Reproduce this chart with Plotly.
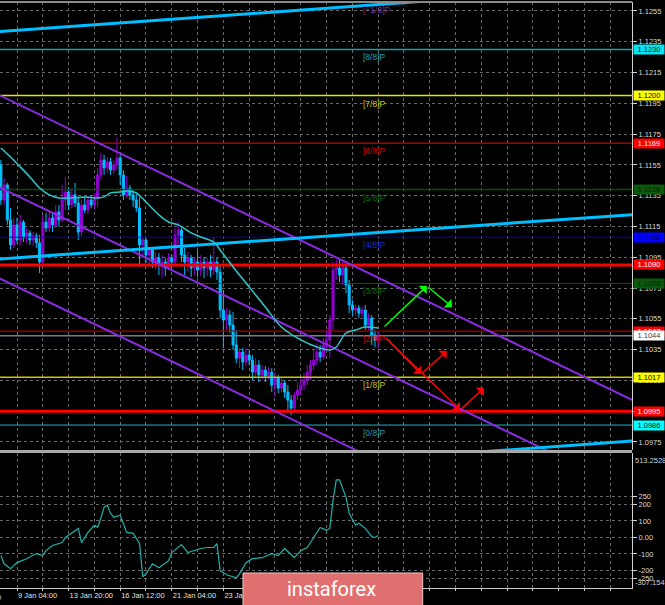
import plotly.graph_objects as go

# ---------------- data ----------------
bars = list(range(118))
open_ = [1.11550,1.11322,1.11420,1.11192,1.11030,1.11160,1.11062,1.11179,1.11075,1.11107,
         1.11062,1.11088,1.11043,1.10919,1.11179,1.11140,1.11205,1.11160,1.11244,1.11192,
         1.11322,1.11374,1.11290,1.11355,1.11303,1.11114,1.11290,1.11257,1.11322,1.11290,
         1.11335,1.11485,1.11582,1.11530,1.11569,1.11517,1.11550,1.11595,1.11485,1.11355,
         1.11400,1.11355,1.11322,1.11270,1.11030,1.11062,1.10965,1.10997,1.10919,1.10945,
         1.10900,1.10919,1.10880,1.10945,1.10919,1.11095,1.11127,1.10965,1.10919,1.10945,
         1.10880,1.10919,1.10867,1.10919,1.10880,1.10919,1.10867,1.10919,1.10854,1.10607,
         1.10542,1.10575,1.10510,1.10380,1.10295,1.10334,1.10269,1.10315,1.10282,1.10204,
         1.10250,1.10185,1.10217,1.10178,1.10204,1.10120,1.10165,1.10100,1.10133,1.10074,
         1.10022,1.09970,1.10055,1.10087,1.10120,1.10152,1.10204,1.10250,1.10282,1.10334,
         1.10302,1.10380,1.10412,1.10542,1.10867,1.10880,1.10835,1.10880,1.10770,1.10640,
         1.10607,1.10620,1.10587,1.10607,1.10510,1.10555,1.10445,1.10412]
high = [1.11582,1.11465,1.11433,1.11270,1.11205,1.11205,1.11225,1.11192,1.11140,1.11127,
        1.11114,1.11107,1.11095,1.11225,1.11237,1.11244,1.11237,1.11290,1.11290,1.11420,
        1.11472,1.11407,1.11400,1.11433,1.11342,1.11322,1.11342,1.11348,1.11355,1.11368,
        1.11530,1.11627,1.11615,1.11602,1.11595,1.11582,1.11732,1.11615,1.11517,1.11478,
        1.11420,1.11387,1.11368,1.11342,1.11082,1.11075,1.11017,1.11010,1.10984,1.10977,
        1.10965,1.10945,1.10977,1.10965,1.11140,1.11179,1.11140,1.11010,1.10984,1.10965,
        1.10952,1.10997,1.10965,1.10952,1.10945,1.10965,1.11082,1.10945,1.10900,1.10737,
        1.10620,1.10607,1.10594,1.10477,1.10360,1.10360,1.10360,1.10347,1.10315,1.10295,
        1.10282,1.10250,1.10243,1.10237,1.10230,1.10204,1.10185,1.10172,1.10152,1.10120,
        1.10055,1.10074,1.10139,1.10165,1.10197,1.10250,1.10282,1.10347,1.10393,1.10380,
        1.10425,1.10477,1.10575,1.10919,1.10932,1.10932,1.10919,1.10900,1.10802,1.10672,
        1.10640,1.10640,1.10632,1.10640,1.10587,1.10575,1.10477,1.10464]
low = [1.11290,1.11290,1.11160,1.10997,1.11010,1.11043,1.11030,1.11049,1.11043,1.11030,
       1.11023,1.11010,1.10847,1.10887,1.11114,1.11114,1.11114,1.11140,1.11147,1.11179,
       1.11257,1.11257,1.11270,1.11277,1.11062,1.11088,1.11237,1.11231,1.11270,1.11264,
       1.11277,1.11452,1.11485,1.11498,1.11485,1.11491,1.11517,1.11420,1.11322,1.11335,
       1.11322,1.11277,1.11244,1.10887,1.10945,1.10913,1.10900,1.10880,1.10867,1.10835,
       1.10822,1.10828,1.10867,1.10880,1.10900,1.11030,1.10919,1.10835,1.10854,1.10822,
       1.10835,1.10822,1.10828,1.10815,1.10828,1.10822,1.10835,1.10802,1.10555,1.10360,
       1.10477,1.10457,1.10347,1.10263,1.10230,1.10217,1.10243,1.10250,1.10152,1.10165,
       1.10139,1.10152,1.10139,1.10152,1.10074,1.10042,1.10067,1.10074,1.10035,1.09957,
       1.09925,1.09937,1.10022,1.10055,1.10087,1.10120,1.10152,1.10217,1.10250,1.10269,
       1.10282,1.10347,1.10295,1.10477,1.10802,1.10789,1.10770,1.10717,1.10587,1.10575,
       1.10568,1.10555,1.10562,1.10477,1.10477,1.10380,1.10367,1.10360]
close = [1.11322,1.11420,1.11192,1.11030,1.11160,1.11062,1.11179,1.11075,1.11107,1.11062,
         1.11088,1.11043,1.10919,1.11179,1.11140,1.11205,1.11160,1.11244,1.11192,1.11322,
         1.11374,1.11290,1.11355,1.11303,1.11114,1.11290,1.11257,1.11322,1.11290,1.11335,
         1.11485,1.11582,1.11530,1.11569,1.11517,1.11550,1.11595,1.11485,1.11355,1.11400,
         1.11355,1.11322,1.11270,1.11030,1.11062,1.10965,1.10997,1.10919,1.10945,1.10900,
         1.10919,1.10880,1.10945,1.10919,1.11095,1.11127,1.10965,1.10919,1.10945,1.10880,
         1.10919,1.10867,1.10919,1.10880,1.10919,1.10867,1.10919,1.10854,1.10607,1.10542,
         1.10575,1.10510,1.10380,1.10295,1.10334,1.10269,1.10315,1.10282,1.10204,1.10250,
         1.10185,1.10217,1.10178,1.10204,1.10120,1.10165,1.10100,1.10133,1.10074,1.10022,
         1.09970,1.10055,1.10087,1.10120,1.10152,1.10204,1.10250,1.10282,1.10334,1.10302,
         1.10380,1.10412,1.10542,1.10867,1.10880,1.10835,1.10880,1.10770,1.10640,1.10607,
         1.10620,1.10587,1.10607,1.10510,1.10555,1.10445,1.10412,1.10438]

ma_bar = [0,3,6,9,12,15,18,22,26,30,32,34,37,40,42,45,49,52,55,59,62,66,68,72,77,82,87,93,98,102,104,107,110,113,117]
ma_val = [1.11660,1.11601,1.11537,1.11471,1.11400,1.11355,1.11335,1.11335,1.11342,1.11335,
          1.11342,1.11368,1.11374,1.11381,1.11368,1.11309,1.11225,1.11179,1.11160,1.11108,
          1.11082,1.11049,1.10997,1.10887,1.10757,1.10627,1.10497,1.10413,1.10367,1.10348,
          1.10367,1.10458,1.10477,1.10497,1.10490]

cci_bar = [0,1,3,5,8,11,13,14,16,19,20,24,25,27,29,30,31,32,33,34,35,37,39,41,43,44,45,47,49,
           52,53,56,58,60,62,64,66,67,68,70,73,74,76,78,81,84,86,88,91,93,95,97,99,101,102,
           103,104,105,107,108,110,111,113,115,116,117]
cci_val = [-110,-160,-190,-153,-129,-98,-110,-80,-49,-31,0,55,-31,31,74,61,117,184,196,147,123,
           135,31,25,-37,-239,-221,-160,-184,-141,-92,-43,-92,-80,-67,-61,-61,-37,-202,-227,
           -245,-221,-153,-129,-123,-98,-110,-67,-123,-80,-61,0,61,43,55,227,350,350,245,147,
           74,86,55,6,0,12]

murray_levels = [1.0986, 1.1017, 1.1047, 1.1078, 1.1108, 1.1139, 1.1169, 1.1200, 1.1230, 1.1261]
murray_names = ["[0/8]P", "[1/8]P", "[2/8]P", "[3/8]P", "[4/8]P", "[5/8]P", "[6/8]P",
                "[7/8]P", "[8/8]P", "[+1/8]P"]
red_levels = [1.1090, 1.0995]
bid_price = 1.1044

price_ticks = [1.0975, 1.0995, 1.1015, 1.1035, 1.1055, 1.1075, 1.1095, 1.1115, 1.1135,
               1.1155, 1.1175, 1.1195, 1.1215, 1.1235, 1.1255]
cci_ticks = [250, 200, 100, 0, -100, -200, -250]
cci_tick_text = ["250", "200", "100", "0.00", "-100", "-200", "-250"]
cci_min, cci_max = -307.154, 513.2528

time_tick_bars = [5, 21, 37, 53, 69]
time_tick_text = ["9 Jan 04:00", "13 Jan 20:00", "16 Jan 12:00", "21 Jan 04:00", "23 Jan 20:00"]

# trend lines (bar, price) endpoints
blue_lines = [([-1, 200], [1.12415, 1.12716]),
              ([-1, 200], [1.10938, 1.11233]),
              ([150, 200], [1.09688, 1.09762])]
purple_lines = [([-1, 196], [1.12008, 1.10020]),
                ([-1, 200], [1.11410, 1.09385]),
                ([-1, 120], [1.10819, 1.09597])]
green_path = [(118.5, 1.10491), (132.1, 1.10763), (139.9, 1.10627)]
red_arrows = [((119.1, 1.10432), (130.3, 1.10192)),
              ((130.3, 1.10192), (138.3, 1.10341)),
              ((119.1, 1.10432), (142.4, 1.09958)),
              ((142.4, 1.09958), (149.8, 1.10101))]

# ---------------- styling ----------------
FONT = "Liberation Sans"
GRID = "#686868"
murray_line_colors = ["#1FB5C4", "#C8C800", "#A80000", "#006000", "#0000C8",
                      "#005000", "#A80000", "#E6E600", "#1A9EB0", "#6A2A9A"]
murray_text_colors = ["#1A9EB0", "#C8C800", "#D00000", "#0A6A0A", "#1030D0",
                      "#0A6A0A", "#D00000", "#C8C800", "#1AA3B5", "#7030A0"]
murray_widths = [1, 1.5, 1.2, 1, 1, 1.5, 1.5, 1.5, 1.5, 0]

fig = go.Figure()

fig.add_trace(go.Candlestick(
    x=bars, open=open_, high=high, low=low, close=close,
    increasing=dict(line=dict(color="#9400D3", width=1), fillcolor="#9400D3"),
    decreasing=dict(line=dict(color="#00BFFF", width=1), fillcolor="#00BFFF"),
    whiskerwidth=0, xaxis="x", yaxis="y", hoverinfo="skip"))

xr = [-2, 202]
for lv, col, w in zip(murray_levels, murray_line_colors, murray_widths):
    if w > 0:
        fig.add_trace(go.Scatter(x=xr, y=[lv, lv], mode="lines",
                                 line=dict(color=col, width=w), xaxis="x", yaxis="y", hoverinfo="skip"))
for lv in red_levels:
    fig.add_trace(go.Scatter(x=xr, y=[lv, lv], mode="lines",
                             line=dict(color="#FF0000", width=3), xaxis="x", yaxis="y", hoverinfo="skip"))
fig.add_trace(go.Scatter(x=xr, y=[bid_price, bid_price], mode="lines",
                         line=dict(color="#708090", width=1.5), xaxis="x", yaxis="y", hoverinfo="skip"))

for xs, ys in purple_lines:
    fig.add_trace(go.Scatter(x=xs, y=ys, mode="lines", line=dict(color="#8A2BE2", width=2),
                             xaxis="x", yaxis="y", hoverinfo="skip"))
for xs, ys in blue_lines:
    fig.add_trace(go.Scatter(x=xs, y=ys, mode="lines", line=dict(color="#00BFFF", width=3),
                             xaxis="x", yaxis="y", hoverinfo="skip"))

fig.add_trace(go.Scatter(x=ma_bar, y=ma_val, mode="lines", line=dict(color="#2EC8C8", width=1.5, shape="spline"),
                         xaxis="x", yaxis="y", hoverinfo="skip"))

fig.add_trace(go.Scatter(x=cci_bar, y=cci_val, mode="lines", line=dict(color="#20B2AA", width=1.2),
                         xaxis="x2", yaxis="y2", hoverinfo="skip"))

annotations = []
# arrows
for (t0, t1) in zip(green_path[:-1], green_path[1:]):
    annotations.append(dict(x=t1[0], y=t1[1], ax=t0[0], ay=t0[1], xref="x", yref="y",
                            axref="x", ayref="y", showarrow=True, arrowhead=1, arrowsize=1.3,
                            arrowwidth=1.5, arrowcolor="#00FF00", text=""))
for (t0, t1) in red_arrows:
    annotations.append(dict(x=t1[0], y=t1[1], ax=t0[0], ay=t0[1], xref="x", yref="y",
                            axref="x", ayref="y", showarrow=True, arrowhead=1, arrowsize=1.3,
                            arrowwidth=1.5, arrowcolor="#FF0000", text=""))

# Murray labels
for lv, name, col in zip(murray_levels, murray_names, murray_text_colors):
    if lv > 1.126:
        annotations.append(dict(x=111.7, y=1, xref="x", yref="paper", text=name, showarrow=False,
                                xanchor="left", yanchor="top", yshift=-1,
                                font=dict(family=FONT, size=8.5, color=col)))
    else:
        annotations.append(dict(x=111.7, y=lv, xref="x", yref="y", text=name, showarrow=False,
                                xanchor="left", yanchor="top", yshift=-1,
                                font=dict(family=FONT, size=8.5, color=col)))

# price boxes on the right
boxes = [(1.1230, "#00E5F0", "#000000"), (1.1200, "#FFFF00", "#000000"),
         (1.1169, "#FF0000", "#FFFFFF"), (1.1139, "#0A5A0A", "#101010"),
         (1.1108, "#0000FF", "#000040"), (1.1090, "#FF0000", "#FFFFFF"),
         (1.1078, "#0A5A0A", "#101010"), (1.1047, "#FF0000", "#FFFFFF"),
         (1.1044, "#FFFFFF", "#404040"), (1.1017, "#FFFF00", "#000000"),
         (1.0995, "#FF0000", "#FFFFFF"), (1.0986, "#00FFFF", "#000000")]
for lv, bg, fc in boxes:
    annotations.append(dict(x=1, y=lv, xref="paper", yref="y", text=f"{lv:.4f}", showarrow=False,
                            xanchor="left", xshift=1, width=30, height=9, bgcolor=bg,
                            borderpad=0, font=dict(family=FONT, size=7.5, color=fc)))

# CCI extreme labels
annotations.append(dict(x=1, y=1, xref="paper", yref="y2 domain", text="513.2528", showarrow=False,
                        xanchor="left", yanchor="top", xshift=1, yshift=-1,
                        font=dict(family=FONT, size=7.5, color="#D0D0D0")))
annotations.append(dict(x=1, y=0, xref="paper", yref="y2 domain", text="-307.154", showarrow=False,
                        xanchor="left", yanchor="bottom", xshift=1, yshift=-1,
                        font=dict(family=FONT, size=7.5, color="#D0D0D0")))
annotations.append(dict(x=3 / 632, y=-0.005, xref="paper", yref="paper", text="0", showarrow=False,
                        xanchor="right", yanchor="top",
                        font=dict(family=FONT, size=7.5, color="#D8D8D8")))

# logo
annotations.append(dict(x=331.5 / 632, y=(588 - 589) / 586, xref="paper", yref="paper", text="instaforex",
                        showarrow=False, xanchor="center", yanchor="middle",
                        font=dict(family="Roboto", size=20, color="#FFFFFF")))

shapes = [
    dict(type="rect", xref="paper", yref="paper", x0=0, x1=1, y0=0.2304, y1=0.2355,
         fillcolor="#A8A8A8", line=dict(width=0)),
    dict(type="line", xref="paper", yref="paper", x0=0, x1=1, y0=1, y1=1,
         line=dict(color="#8A8A8A", width=2)),
    dict(type="rect", xref="paper", yref="paper", x0=243 / 632, x1=422.7 / 632,
         y0=-0.035, y1=(588 - 573) / 586, fillcolor="#E07070",
         line=dict(color="#F4C8C8", width=1)),
]

grid_bars = list(range(5, 196, 8))
grid_text = []
for b in grid_bars:
    grid_text.append(time_tick_text[time_tick_bars.index(b)] if b in time_tick_bars else "")

fig.update_layout(
    width=665, height=605,
    margin=dict(l=0, r=33, t=2, b=17, autoexpand=False),
    paper_bgcolor="#000000", plot_bgcolor="#000000",
    showlegend=False, hovermode=False, boxgap=0.1,
    font=dict(family=FONT, size=7.5, color="#D0D0D0"),
    xaxis=dict(domain=[0, 1], range=[-0.27, 195.7], anchor="y", showticklabels=False,
               tickvals=grid_bars, showgrid=True, gridcolor=GRID, griddash="3px,3px",
               gridwidth=1, zeroline=False, rangeslider=dict(visible=False), ticks="",
               automargin=False),
    xaxis2=dict(domain=[0, 1], range=[-0.27, 195.7], anchor="y2", matches="x",
                tickvals=grid_bars, ticktext=grid_text, ticklabelposition="outside right",
                tickangle=0, automargin=False,
                showgrid=True, gridcolor=GRID, griddash="3px,3px", gridwidth=1, zeroline=False,
                showline=True, linecolor="#C8C8C8", linewidth=1, ticks="outside", ticklen=2,
                tickcolor="#C8C8C8", tickfont=dict(family=FONT, size=7.5, color="#E0E0E0")),
    yaxis=dict(domain=[0.2355, 1], range=[1.09698, 1.12608], side="right", anchor="x",
               tickvals=price_ticks, ticktext=[f"{v:.4f}" for v in price_ticks], automargin=False,
               showgrid=True, gridcolor=GRID, griddash="3px,3px", gridwidth=1, zeroline=False,
               showline=True, linecolor="#D0D0D0", linewidth=1, ticks="outside", ticklen=4,
               tickcolor="#D0D0D0", tickfont=dict(family=FONT, size=7.5, color="#D8D8D8")),
    yaxis2=dict(domain=[0, 0.2304], range=[cci_min, cci_max], side="right", anchor="x2",
                tickvals=cci_ticks, ticktext=cci_tick_text, automargin=False,
                showgrid=True, gridcolor=GRID, griddash="3px,3px", gridwidth=1, zeroline=False,
                showline=True, linecolor="#D0D0D0", linewidth=1, ticks="outside", ticklen=4,
                tickcolor="#D0D0D0", tickfont=dict(family=FONT, size=7.5, color="#D8D8D8")),
    annotations=annotations,
    shapes=shapes,
)

fig.write_html("out.html", config={"displayModeBar": False},
               post_script="document.body.style.margin='0px';document.body.style.background='#000';")
